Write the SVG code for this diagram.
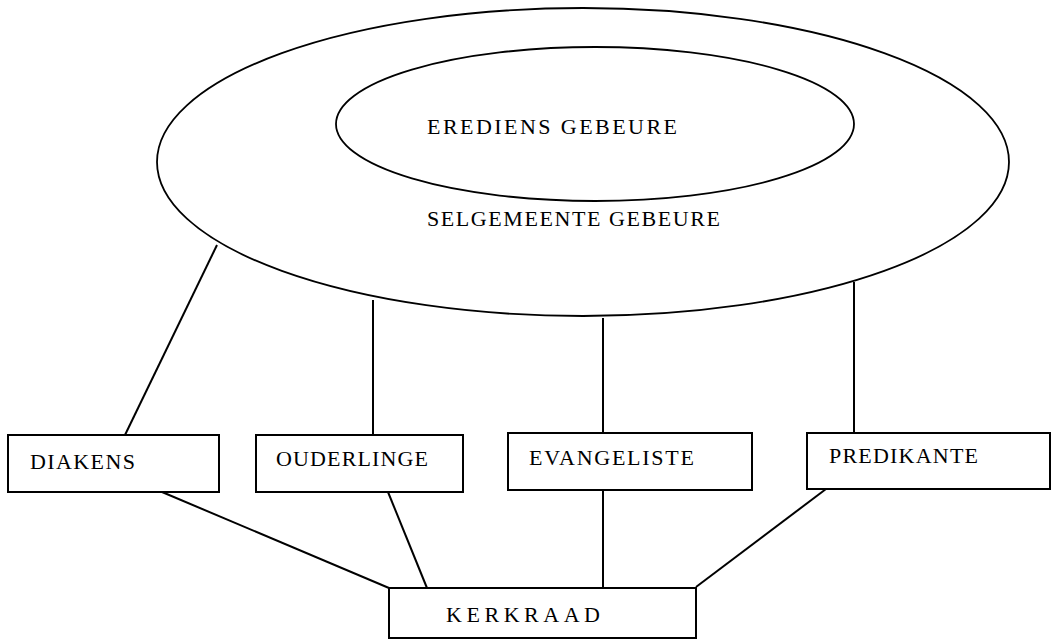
<svg xmlns="http://www.w3.org/2000/svg" width="1057" height="644" viewBox="0 0 1057 644">
<style>
.shape{fill:none;stroke:#000;stroke-width:1.8}
.box{fill:#fff;stroke:#000;stroke-width:2}
.lbl{font-family:"Liberation Serif","Times New Roman",serif;font-size:22px;fill:#000}
.conn line{stroke:#000;stroke-width:2}
</style>
<rect width="1057" height="644" fill="#fff"/>
<g id="selgemeente">
<ellipse class="shape" cx="583" cy="162" rx="426" ry="154"/>
<text class="lbl" x="427" y="226" textLength="293" lengthAdjust="spacing">SELGEMEENTE GEBEURE</text>
</g>
<g id="erediens">
<ellipse class="shape" cx="595" cy="124" rx="259" ry="77"/>
<text class="lbl" x="427" y="134" textLength="250" lengthAdjust="spacing">EREDIENS GEBEURE</text>
</g>
<g class="conn" id="connectors">
<line x1="217" y1="245" x2="125" y2="435"/>
<line x1="373" y1="300" x2="373" y2="435"/>
<line x1="603" y1="318" x2="603" y2="433"/>
<line x1="854" y1="282" x2="854" y2="433"/>
<line x1="162" y1="492" x2="389" y2="588"/>
<line x1="388" y1="492" x2="427" y2="588"/>
<line x1="603" y1="490" x2="603" y2="588"/>
<line x1="826" y1="489" x2="696" y2="587"/>
</g>
<g id="diakens">
<rect class="box" x="8" y="435" width="211" height="57"/>
<text class="lbl" x="30" y="469" textLength="105" lengthAdjust="spacing">DIAKENS</text>
</g>
<g id="ouderlinge">
<rect class="box" x="256" y="435" width="207" height="57"/>
<text class="lbl" x="276" y="466" textLength="152" lengthAdjust="spacing">OUDERLINGE</text>
</g>
<g id="evangeliste">
<rect class="box" x="508" y="433" width="244" height="57"/>
<text class="lbl" x="529" y="465" textLength="165" lengthAdjust="spacing">EVANGELISTE</text>
</g>
<g id="predikante">
<rect class="box" x="807" y="433" width="243" height="56"/>
<text class="lbl" x="829" y="463" textLength="149" lengthAdjust="spacing">PREDIKANTE</text>
</g>
<g id="kerkraad">
<rect class="box" x="389" y="588" width="307" height="50"/>
<text class="lbl" x="446" y="622" textLength="154" lengthAdjust="spacing">KERKRAAD</text>
</g>
</svg>
